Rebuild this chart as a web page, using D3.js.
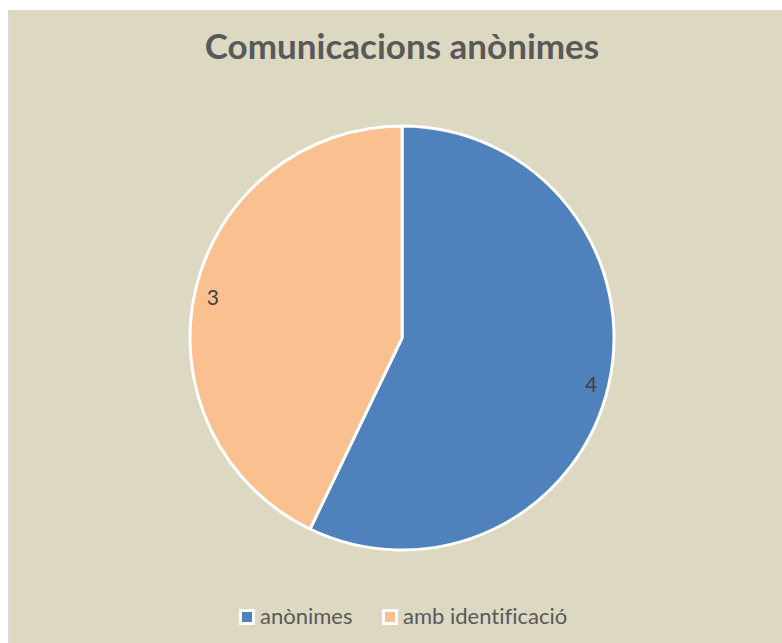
<!DOCTYPE html>
<html>
<head>
<meta charset="utf-8">
<script src="https://cdn.jsdelivr.net/npm/d3@7"></script>
<style>
  body { margin: 0; background: #fff; }
  svg text { font-family: Lato, "Open Sans", sans-serif; font-variant-ligatures: none; }
</style>
</head>
<body>
<svg id="chart"></svg>
<script>
const categories = ['anònimes', 'amb identificació'];
const values = [4, 3];
const colors = ['#4f81bd', '#fac090'];
const title = 'Comunicacions anònimes';

const width = 782;
const height = 643;
const cx = 402, cy = 338;
const radius = 212; // px

const svg = d3.select('#chart')
    .attr('width', width)
    .attr('height', height);

// chart area background
svg.append('rect')
    .attr('x', 8.5)
    .attr('y', 10.5)
    .attr('width', width)
    .attr('height', height)
    .attr('fill', '#ddd8c2')
    .attr('stroke', '#d9d9d9');

svg.append('text')
    .attr('x', cx)
    .attr('y', 59)
    .attr('text-anchor', 'middle')
    .attr('font-size', 35)
    .attr('font-weight', 'bold')
    .attr('fill', '#595959')
    .text(title);

const pie = d3.pie().sort(null).value(d => d);
const arcs = pie(values);

const arc = d3.arc().innerRadius(0).outerRadius(radius);
const labelArc = d3.arc().innerRadius(radius * 0.915).outerRadius(radius * 0.915);

const g = svg.append('g')
    .attr('transform', `translate(${cx},${cy})`);

g.selectAll('path')
    .data(arcs)
    .join('path')
    .attr('d', arc)
    .attr('fill', (d, i) => colors[i])
    .attr('stroke', '#fff')
    .attr('stroke-width', 3)
    .attr('stroke-linejoin', 'round');

g.selectAll('text.lbl')
    .data(arcs)
    .join('text')
    .attr('class', 'lbl')
    .attr('transform', d => `translate(${labelArc.centroid(d)})`)
    .attr('text-anchor', 'middle')
    .attr('dy', '0.5em')
    .attr('font-size', 21)
    .attr('fill', '#404040')
    .text(d => d.data);

// legend
const legendX = [239, 382];
const legend = svg.append('g');
const item = legend.selectAll('g')
    .data(categories)
    .join('g')
    .attr('transform', (d, i) => `translate(${legendX[i]},609)`);

item.append('rect')
    .attr('width', 16)
    .attr('height', 16)
    .attr('fill', '#fff');

item.append('rect')
    .attr('x', 3)
    .attr('y', 3)
    .attr('width', 10)
    .attr('height', 10)
    .attr('fill', (d, i) => colors[i]);

item.append('text')
    .attr('x', 21)
    .attr('y', 15)
    .attr('font-size', 22)
    .attr('fill', '#595959')
    .text(d => d);
</script>
</body>
</html>
